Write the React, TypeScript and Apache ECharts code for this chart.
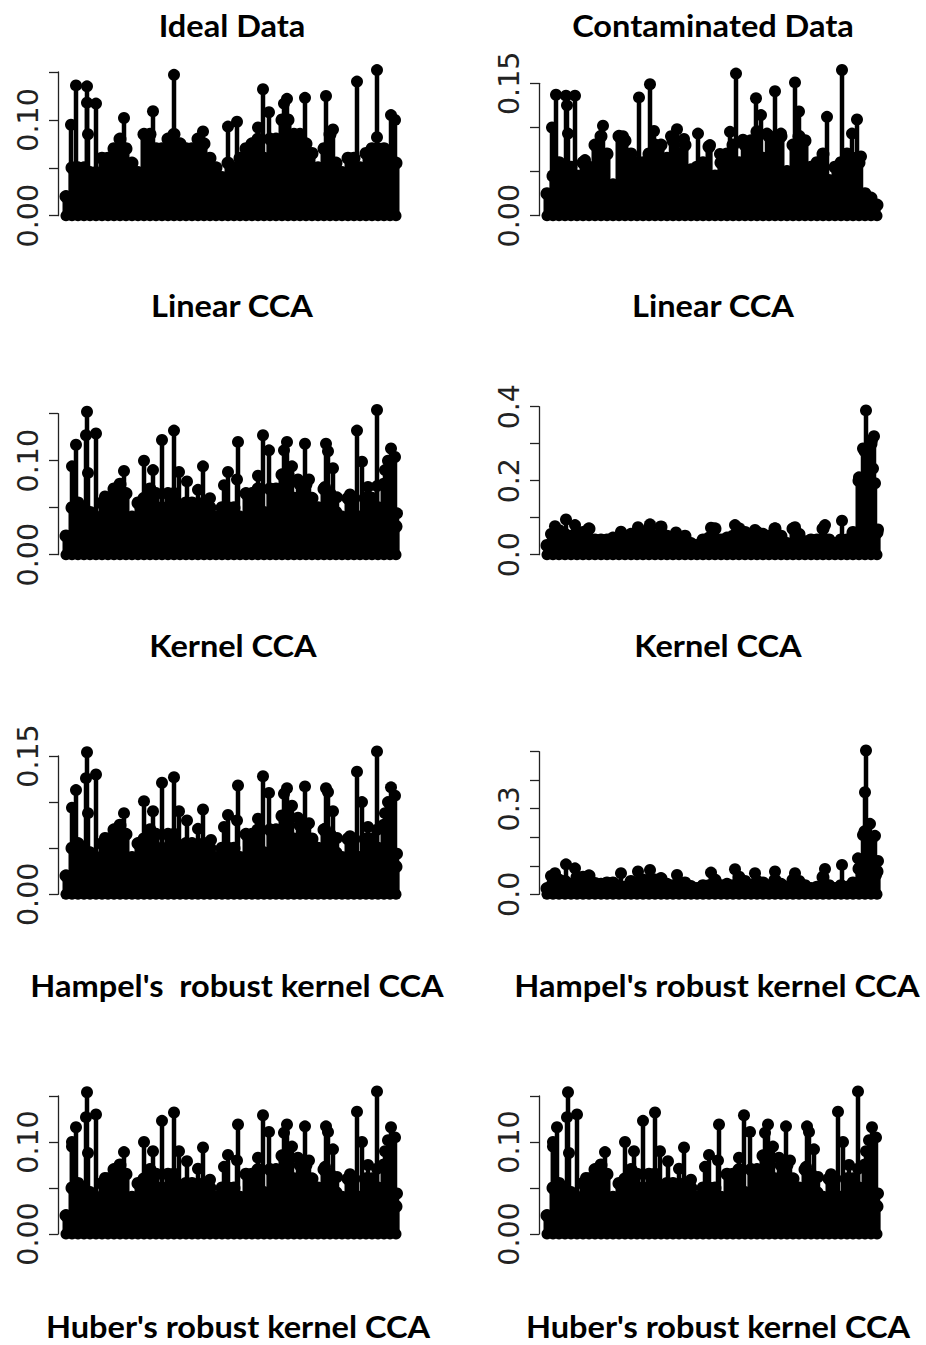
import React, { useEffect, useRef } from "react";
import * as echarts from "echarts";

const titleTexts = ["Ideal Data", "Contaminated Data", "Linear CCA", "Linear CCA", "Kernel CCA", "Kernel CCA", "Hampel's  robust kernel CCA", "Hampel's robust kernel CCA", "Huber's robust kernel CCA", "Huber's robust kernel CCA"];
const titleCenters = [232, 713, 232, 713, 233, 718, 237, 717, 238, 718];
const titleRows = [25, 25, 305, 305, 645, 645, 985, 985, 1326, 1326];

const envelopeIndex = [0, 6, 12, 18, 24, 30, 36, 42, 48, 54, 60, 66, 72, 78, 84, 90, 96, 102, 108, 114, 120, 126, 132, 138, 144, 150, 156, 162, 168, 174, 180, 186, 192, 198, 204, 210, 216, 222, 228, 234, 240, 246, 252, 258, 264, 270, 276, 282, 288, 294, 300, 306, 312, 318, 324, 330];

const idealEnvelope = [.02, .05, .05, .05, .045, .045, .06, .06, .07, .08, .07, .055, .045, .085, .085, .07, .07, .08, .085, .075, .07, .07, .08, .075, .06, .05, .04, .055, .05, .06, .07, .075, .08, .06, .08, .08, .10, .10, .085, .085, .075, .065, .05, .07, .085, .055, .045, .06, .06, .05, .065, .07, .07, .07, .06, .055];
const idealPeaks = [[5, .095], [10, .136], [21, .135], [21, .118], [22, .085], [30, .117], [58, .102], [87, .109], [108, .147], [137, .088], [162, .093], [171, .098], [192, .092], [197, .132], [203, .108], [218, .117], [221, .122], [239, .123], [260, .125], [267, .09], [291, .14], [311, .152], [311, .082], [325, .105], [329, .10]];

const contamEnvelope = [.025, .045, .06, .055, .055, .045, .06, .055, .08, .09, .07, .035, .09, .085, .07, .06, .06, .07, .08, .08, .065, .085, .07, .08, .052, .055, .06, .078, .045, .06, .07, .08, .06, .08, .085, .095, .065, .09, .085, .09, .05, .08, .09, .085, .055, .06, .07, .04, .055, .06, .07, .065, .06, .025, .02, .012];
const contamPeaks = [[5, .10], [9, .137], [19, .136], [20, .125], [21, .093], [28, .136], [38, .063], [56, .102], [76, .09], [92, .134], [103, .149], [107, .096], [124, .09], [130, .098], [137, .087], [151, .093], [163, .08], [173, .07], [183, .095], [189, .161], [196, .086], [209, .133], [214, .114], [220, .093], [228, .141], [234, .093], [248, .151], [252, .118], [280, .112], [295, .165], [305, .093], [310, .109], [314, .067]];

const linearEnvelope = [.02, .05, .055, .05, .045, .04, .055, .06, .07, .075, .065, .04, .055, .06, .07, .065, .05, .065, .065, .05, .055, .055, .05, .055, .05, .04, .05, .05, .05, .04, .065, .065, .07, .045, .07, .07, .085, .085, .06, .075, .075, .06, .05, .07, .065, .045, .04, .06, .06, .04, .06, .06, .05, .075, .09, .03];
const linearPeaks = [[6, .094], [10, .117], [21, .152], [20, .127], [22, .087], [30, .129], [39, .062], [58, .089], [78, .10], [87, .09], [96, .122], [108, .132], [113, .088], [121, .078], [132, .069], [137, .094], [144, .06], [158, .074], [162, .088], [172, .12], [171, .08], [192, .084], [197, .127], [203, .111], [218, .111], [221, .12], [226, .094], [239, .118], [232, .08], [243, .08], [260, .118], [262, .11], [267, .092], [259, .072], [271, .061], [284, .064], [291, .132], [296, .099], [302, .072], [311, .154], [311, .073], [319, .09], [325, .113], [329, .104], [322, .10], [331, .044]];

const kernelEnvelope = [.025, .05, .065, .055, .05, .06, .06, .07, .04, .04, .04, .045, .045, .035, .055, .05, .05, .07, .05, .075, .05, .04, .045, .05, .03, .025, .04, .045, .07, .04, .045, .05, .07, .06, .05, .06, .055, .05, .07, .05, .03, .07, .055, .035, .04, .04, .07, .04, .03, .04, .04, .06, .20, .28, .30, .06];
const kernelPeaks = [[319, .39], [316, .287], [327, .32], [325, .31], [326, .233], [312, .209], [328, .193], [331, .068], [295, .092], [278, .08], [19, .095], [8, .077], [4, .056], [28, .08], [103, .082], [91, .074], [164, .073], [188, .08], [208, .067], [228, .071], [248, .074], [74, .062], [129, .06]];

const hampelEnvelope = [.02, .05, .055, .05, .045, .04, .055, .06, .07, .075, .065, .04, .055, .06, .07, .065, .05, .065, .065, .05, .055, .055, .05, .055, .05, .04, .05, .05, .05, .04, .065, .065, .07, .045, .07, .07, .085, .085, .06, .075, .075, .06, .05, .07, .065, .045, .04, .06, .06, .04, .06, .06, .05, .075, .09, .03];
const hampelPeaks = [[6, .094], [10, .113], [21, .154], [20, .126], [22, .088], [30, .13], [39, .061], [58, .088], [78, .101], [87, .09], [96, .121], [108, .127], [113, .09], [121, .08], [132, .071], [137, .092], [145, .059], [158, .073], [162, .086], [172, .118], [171, .08], [192, .082], [197, .128], [203, .11], [218, .109], [221, .115], [226, .096], [239, .117], [232, .083], [243, .077], [260, .115], [262, .111], [267, .09], [259, .071], [271, .061], [284, .063], [291, .133], [296, .10], [302, .073], [311, .155], [311, .07], [319, .088], [325, .116], [329, .107], [322, .10], [331, .044]];

const hampelCEnvelope = [.02, .04, .05, .045, .035, .06, .06, .065, .038, .035, .04, .04, .03, .025, .045, .04, .05, .05, .05, .055, .035, .03, .03, .04, .027, .02, .03, .03, .05, .03, .035, .03, .06, .045, .03, .045, .04, .03, .05, .035, .025, .05, .045, .03, .02, .025, .06, .03, .02, .03, .025, .04, .09, .22, .19, .08];
const hampelCPeaks = [[319, .504], [318, .358], [323, .247], [316, .208], [328, .205], [311, .126], [331, .117], [329, .068], [295, .103], [278, .089], [19, .105], [28, .091], [8, .074], [4, .064], [74, .074], [91, .08], [103, .085], [164, .076], [188, .088], [208, .074], [228, .08], [248, .074], [130, .068]];

const huberEnvelope = [.02, .05, .055, .05, .045, .04, .055, .06, .07, .075, .065, .04, .055, .06, .07, .065, .05, .065, .065, .05, .055, .055, .05, .055, .05, .04, .05, .05, .05, .04, .065, .065, .07, .045, .07, .07, .085, .085, .06, .075, .075, .06, .05, .07, .065, .045, .04, .06, .06, .04, .06, .06, .05, .075, .09, .03];
const huberPeaks = [[6, .095], [6, .10], [10, .116], [21, .154], [20, .127], [22, .088], [30, .13], [39, .061], [58, .089], [78, .10], [87, .09], [96, .123], [108, .132], [113, .09], [121, .079], [132, .071], [137, .094], [144, .059], [158, .073], [162, .086], [172, .119], [171, .08], [192, .083], [197, .129], [203, .111], [218, .11], [221, .119], [226, .095], [239, .117], [232, .083], [243, .08], [260, .117], [262, .111], [267, .092], [259, .073], [271, .062], [284, .065], [291, .133], [296, .10], [302, .075], [311, .155], [311, .071], [319, .09], [325, .116], [329, .105], [322, .102], [331, .044]];

const idealLabels = ["0.00", "0.10"];
const contamLabels = ["0.00", "0.15"];
const kernelLabels = ["0.0", "0.2", "0.4"];
const hampelCLabels = ["0.0", "0.3"];

const panels = [
  { left: 58, top: 72, bottom: 215.7, step: .05, max: .15, labels: idealLabels, env: idealEnvelope, peaks: idealPeaks },
  { left: 539, top: 83.3, bottom: 215.7, step: .05, max: .15, labels: contamLabels, env: contamEnvelope, peaks: contamPeaks },
  { left: 58, top: 413.7, bottom: 554.7, step: .05, max: .15, labels: idealLabels, env: linearEnvelope, peaks: linearPeaks },
  { left: 539, top: 406.7, bottom: 554.7, step: .1, max: .4, labels: kernelLabels, env: kernelEnvelope, peaks: kernelPeaks },
  { left: 58, top: 756, bottom: 894.3, step: .05, max: .15, labels: contamLabels, env: hampelEnvelope, peaks: hampelPeaks },
  { left: 539, top: 751.7, bottom: 894.3, step: .1, max: .5, labels: hampelCLabels, env: hampelCEnvelope, peaks: hampelCPeaks },
  { left: 58, top: 1096, bottom: 1234, step: .05, max: .15, labels: idealLabels, env: huberEnvelope, peaks: huberPeaks },
  { left: 539, top: 1096, bottom: 1234, step: .05, max: .15, labels: idealLabels, env: huberEnvelope, peaks: huberPeaks },
];

const stem = (width: number) => (_: any, api: any) => {
  const a = api.coord([api.value(0), 0]);
  const b = api.coord([api.value(0), api.value(1)]);
  return { type: "line", shape: { x1: a[0], y1: a[1], x2: b[0], y2: b[1] }, style: { stroke: "#000", lineWidth: width } };
};

export default function App() {
  const ref = useRef<HTMLDivElement>(null);
  useEffect(() => {
    const chart = echarts.init(ref.current!, undefined, { renderer: "svg" });
    const grid: any[] = [], xAxis: any[] = [], yAxis: any[] = [], series: any[] = [];
    panels.forEach((p, i) => {
      const digits = p.labels[0].length - 2;
      grid.push({ left: p.left, top: p.top, width: 345, height: p.bottom - p.top });
      xAxis.push({ type: "value", gridIndex: i, min: -8, max: 337, show: false });
      yAxis.push({
        type: "value", gridIndex: i, min: 0, max: p.max, interval: p.step,
        splitLine: { show: false },
        axisLine: { show: true, onZero: false, lineStyle: { color: "#222", width: 1.3 } },
        axisTick: { show: true, length: 9, lineStyle: { color: "#222", width: 1.3 } },
        axisLabel: {
          rotate: 90, margin: 15, fontSize: 28.5, color: "#222", fontFamily: "DejaVu Sans",
          formatter: (v: number) => (p.labels.includes(v.toFixed(digits)) ? v.toFixed(digits) : ""),
        },
      });
      const envPts = p.env.map((v, k) => [envelopeIndex[k], v]);
      const zeroPts = envelopeIndex.map((x) => [x, 0]);
      const axes = { xAxisIndex: i, yAxisIndex: i };
      series.push({ type: "custom", ...axes, renderItem: stem(7), encode: { x: 0, y: 1 }, data: envPts, clip: false });
      series.push({ type: "custom", ...axes, renderItem: stem(4.5), encode: { x: 0, y: 1 }, data: p.peaks, clip: false });
      series.push({ type: "scatter", ...axes, symbol: "circle", symbolSize: 13, itemStyle: { color: "#000", opacity: 1 }, data: envPts, clip: false });
      series.push({ type: "scatter", ...axes, symbol: "circle", symbolSize: 11, itemStyle: { color: "#000", opacity: 1 }, data: zeroPts, clip: false });
      series.push({ type: "scatter", ...axes, symbol: "circle", symbolSize: 12, itemStyle: { color: "#000", opacity: 1 }, data: p.peaks, clip: false });
    });
    chart.setOption({
      animation: false,
      backgroundColor: "#fff",
      grid, xAxis, yAxis, series,
      graphic: titleTexts.map((t, i) => ({
        type: "text", x: titleCenters[i], y: titleRows[i], scaleX: 1.05,
        style: { text: t, fill: "#000", font: "bold 31px Lato", textAlign: "center", textVerticalAlign: "middle" },
      })),
    });
    return () => chart.dispose();
  }, []);
  return <div ref={ref} style={{ position: "absolute", left: 0, top: 0, width: 926, height: 1345 }} />;
}
